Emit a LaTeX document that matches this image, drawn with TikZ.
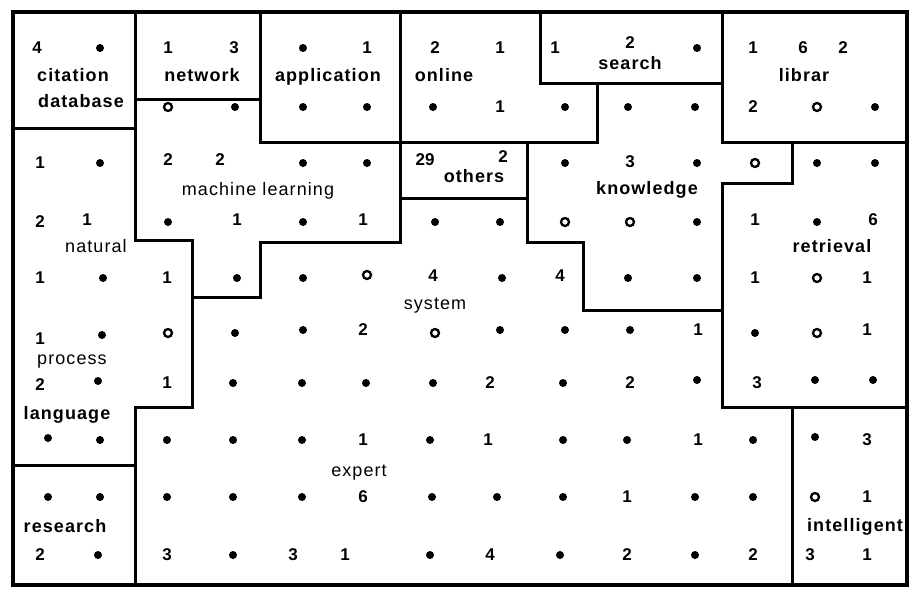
\documentclass[tikz,border=0pt]{standalone}
\usepackage{fontspec}
\setmainfont{Liberation Sans}
\newfontfamily\labfont{Liberation Sans}[LetterSpace=6]
\tikzset{
  wall/.style={line width=3pt, line join=miter, line cap=rect},
  outerframe/.style={line width=4pt},
  dotc/.style={circle, fill=black, inner sep=0pt, minimum size=8pt},
  ringc/.style={circle, draw=black, fill=white, line width=2.3pt, inner sep=0pt, minimum size=8pt},
  num/.style={font=\fontsize{17}{17}\selectfont\bfseries, inner sep=0pt},
  lab/.style={font=\labfont\fontsize{18}{18}\selectfont\bfseries, inner sep=0pt, text height=13pt, text depth=4pt},
  labl/.style={font=\labfont\fontsize{18}{18}\selectfont, inner sep=0pt, text height=13pt, text depth=4pt},
}
\begin{document}
\begin{tikzpicture}[x=1pt,y=-1pt]
\useasboundingbox (0,0) rectangle (912,589);
\fill[white] (0,0) rectangle (912,589);
% outer frame
\draw[outerframe] (13,12) rectangle (907,585);
% region walls
\draw[wall] (13,128) -- (135,128);
\draw[wall] (135,12) -- (135,240) -- (192,240) -- (192,407) -- (135,407) -- (135,585);
\draw[wall] (13,465) -- (135,465);
\draw[wall] (135,99) -- (260,99);
\draw[wall] (260,12) -- (260,142) -- (597,142);
\draw[wall] (400,12) -- (400,242) -- (260,242) -- (260,297) -- (192,297);
\draw[wall] (540,12) -- (540,83) -- (722,83);
\draw[wall] (597,83) -- (597,142);
\draw[wall] (722,12) -- (722,142) -- (907,142);
\draw[wall] (792,142) -- (792,183) -- (722,183) -- (722,407) -- (907,407);
\draw[wall] (400,198) -- (527,198);
\draw[wall] (527,142) -- (527,242) -- (583,242) -- (583,310) -- (722,310);
\draw[wall] (792,407) -- (792,585);
% dots
\foreach \x/\y [count=\i] in {
 100/48,303/48,697/48,
 235/107,303/107,367/107,433/107,565/107,628/107,695/107,875/107,
 100/163,303/163,367/163,565/163,697/163,817/163,875/163,
 168/222,303/222,435/222,500/222,697/222,817/222,
 103/278,237/278,303/278,502/278,628/278,697/278,
 102/335,235/333,303/330,500/330,565/330,630/330,755/333,
 98/381,233/383,302/383,366/383,433/383,563/383,697/380,815/380,873/380,
 48/438,100/440,167/440,233/440,302/440,430/440,563/440,627/440,753/440,815/437,
 48/497,100/497,167/497,233/497,302/497,432/497,497/497,563/497,695/497,753/497,
 98/555,233/555,430/555,560/555,695/555}
  \node[dotc] (d\i) at (\x,\y) {};
% rings
\foreach \x/\y [count=\i] in {
 168/107,817/107,755/163,565/222,630/222,367/275,817/278,168/333,435/333,817/333,815/497}
  \node[ringc] (o\i) at (\x,\y) {};
% numbers
\foreach \x/\y/\t [count=\i] in {
 37/48/4,168/48/1,234/48/3,367/48/1,435/48/2,500/48/1,555/48/1,630/43/2,753/48/1,803/48/6,843/48/2,
 500/107/1,753/107/2,
 40/163/1,168/160/2,220/160/2,425/160/29,503/157/2,630/162/3,
 40/222/2,87/220/1,237/220/1,363/220/1,755/220/1,873/220/6,
 40/278/1,167/278/1,433/276/4,560/276/4,755/278/1,867/278/1,
 40/339/1,363/330/2,698/330/1,867/330/1,
 40/385/2,167/383/1,490/383/2,630/383/2,757/383/3,
 363/440/1,488/440/1,698/440/1,867/440/3,
 363/497/6,627/497/1,867/497/1,
 40/555/2,167/555/3,293/555/3,345/555/1,490/555/4,627/555/2,753/555/2,810/555/3,867/555/1}
  \node[num] (n\i) at (\x,\y) {\t};
% labels
\node[lab]  (citation)  at (73,77)   {citation};
\node[lab]  (database)  at (81,103)  {database};
\node[lab]  (network)   at (202,77)  {network};
\node[lab]  (application) at (328,77) {application};
\node[lab]  (online)    at (444,77)  {online};
\node[lab]  (search)    at (630,65)  {search};
\node[lab]  (librar)    at (804,77)  {librar};
\node[labl] (machine)   at (258,191) {machine learning};
\node[lab]  (others)    at (474,178) {others};
\node[lab]  (knowledge) at (647,190) {knowledge};
\node[labl] (natural)   at (96,248)  {natural};
\node[lab]  (retrieval) at (832,248) {retrieval};
\node[labl] (system)    at (435,305) {system};
\node[labl] (process)   at (72,360)  {process};
\node[lab]  (language)  at (67,415)  {language};
\node[labl] (expert)    at (359,472) {expert};
\node[lab]  (research)  at (65,528)  {research};
\node[lab]  (intelligent) at (855,527) {intelligent};
\end{tikzpicture}
\end{document}
